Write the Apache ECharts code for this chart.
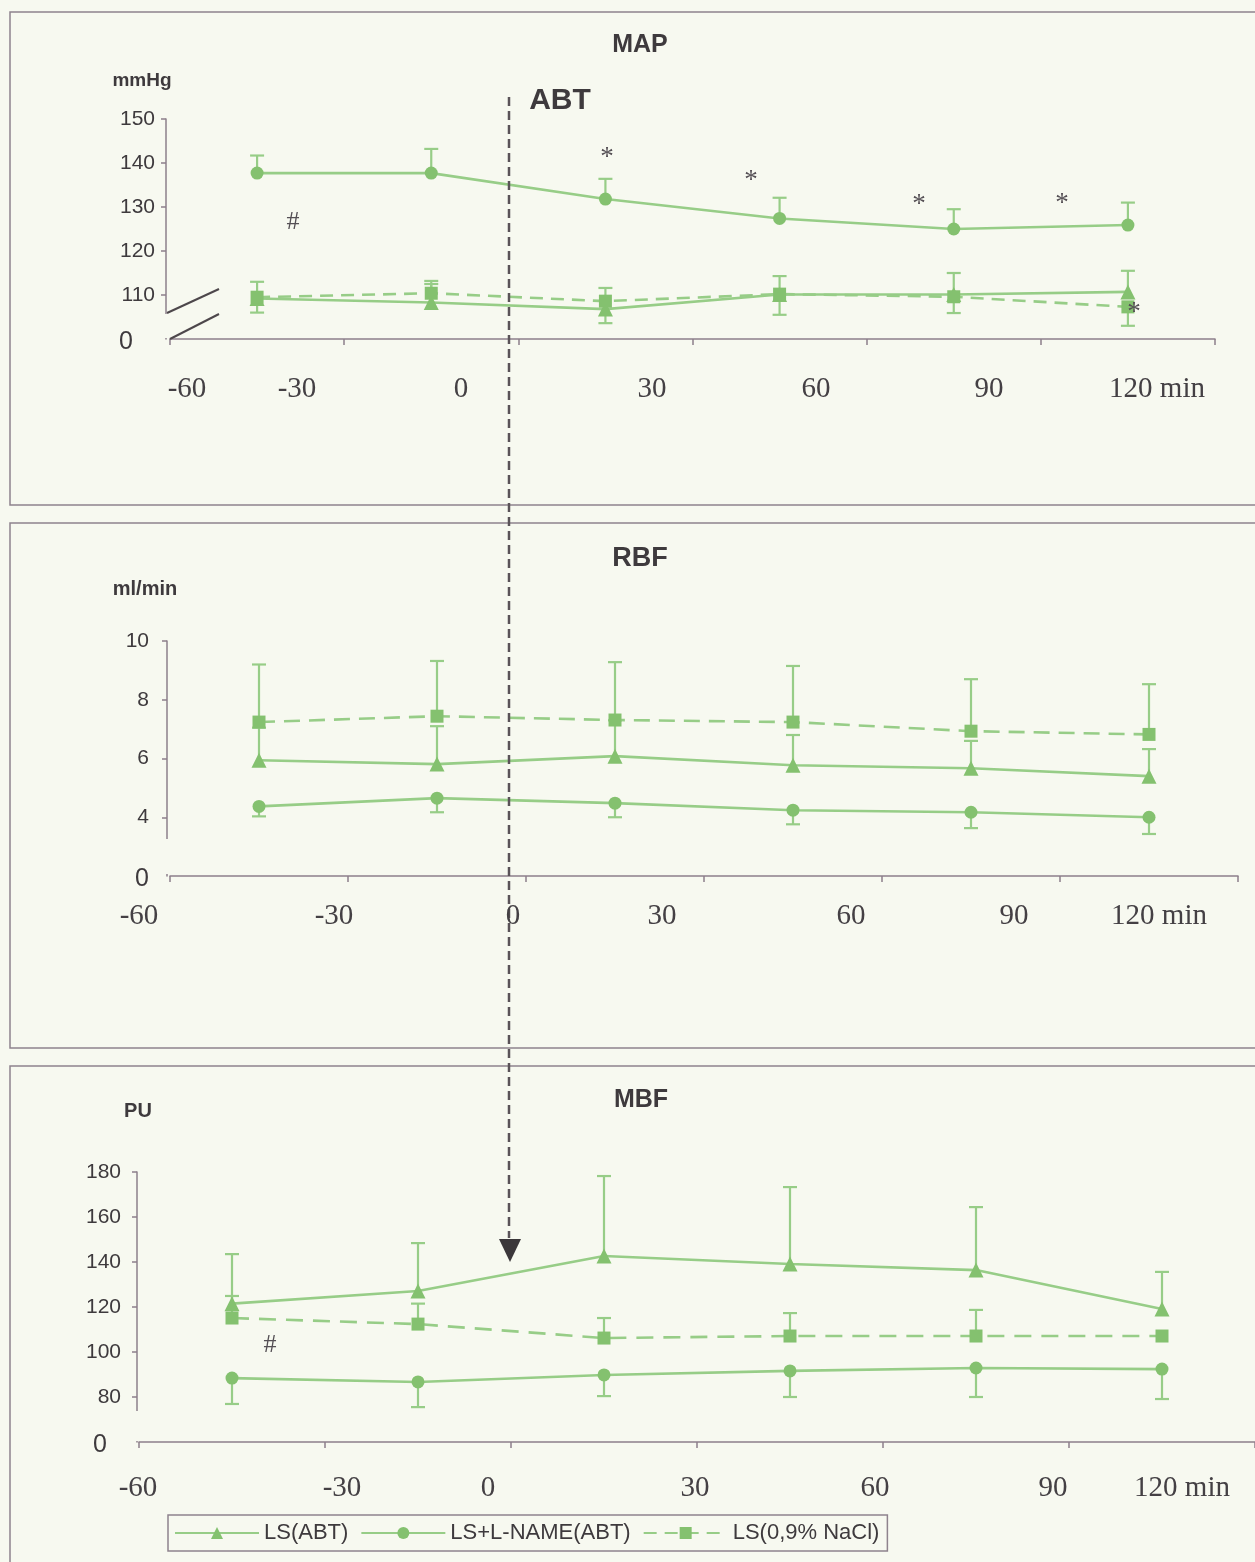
<!DOCTYPE html>
<html><head><meta charset="utf-8">
<script src="https://cdn.jsdelivr.net/npm/echarts@6/dist/echarts.min.js"></script>
<style>html,body{margin:0;padding:0;background:#f7f9f0;}#c{width:1255px;height:1562px;}</style>
</head><body><div id="c"></div>
<script>
// ---------- DATA ----------
const timePoints = ['-30', '0', '30', '60', '90', '120'];
const seriesNames = ['LS(ABT)', 'LS+L-NAME(ABT)', 'LS(0,9% NaCl)'];
const xTickLabels = ['-60', '-30', '0', '30', '60', '90', '120 min'];

// MAP (mmHg)
const mapLS        = [109.2, 108.3, 106.8, 110.1, 110.1, 110.7];
const mapLSHigh    = [null, 112.5, null, null, null, 115.5];
const mapLSLow     = [null, null, 103.6, 105.5, 105.9, null];
const mapLN        = [137.7, 137.7, 131.8, 127.4, 125.0, 125.9];
const mapLNHigh    = [141.7, 143.2, 136.4, 132.1, 129.5, 131.0];
const mapLNLow     = [null, null, null, null, null, null];
const mapNaCl      = [109.5, 110.4, 108.6, 110.2, 109.6, 107.3];
const mapNaClHigh  = [113.0, 113.2, 111.6, 114.3, 115.0, null];
const mapNaClLow   = [106.0, null, null, null, null, 103.0];

// RBF (ml/min)
const rbfLS        = [5.94, 5.81, 6.08, 5.77, 5.67, 5.40];
const rbfLSHigh    = [7.05, 7.10, 7.30, 6.80, 6.60, 6.32];
const rbfLSLow     = [null, null, null, null, null, null];
const rbfLN        = [4.37, 4.65, 4.48, 4.24, 4.17, 4.00];
const rbfLNHigh    = [null, null, null, null, null, null];
const rbfLNLow     = [4.03, 4.17, 4.00, 3.76, 3.63, 3.43];
const rbfNaCl      = [7.24, 7.44, 7.31, 7.24, 6.93, 6.82];
const rbfNaClHigh  = [9.20, 9.32, 9.28, 9.15, 8.70, 8.53];
const rbfNaClLow   = [null, null, null, null, null, null];

// MBF (PU)
const mbfLS        = [121.5, 127.1, 142.7, 139.1, 136.4, 119.1];
const mbfLSHigh    = [143.5, 148.4, 178.2, 173.3, 164.4, 135.6];
const mbfLSLow     = [null, null, null, null, null, null];
const mbfLN        = [88.4, 86.7, 89.8, 91.6, 92.9, 92.4];
const mbfLNHigh    = [null, null, null, null, null, null];
const mbfLNLow     = [76.9, 75.5, 80.4, 80.0, 80.0, 79.1];
const mbfNaCl      = [115.1, 112.4, 106.2, 107.1, 107.1, 107.1];
const mbfNaClHigh  = [124.9, 121.5, 115.1, 117.3, 118.7, null];
const mbfNaClLow   = [null, null, null, null, null, null];

// y axis ranges (bottom value is shown as "0" because of the axis break)
const mapAxis = {min: 100, max: 150, interval: 10, ticks: [110, 120, 130, 140, 150]};
const rbfAxis = {min: 2, max: 10, interval: 2, ticks: [4, 6, 8, 10]};
const mbfAxis = {min: 60, max: 180, interval: 20, ticks: [80, 100, 120, 140, 160, 180]};

// ---------- LAYOUT / STYLE ----------
const LINE = '#97cd87', MARK = '#84c16f', AXIS = '#8d7f8b', TXT = '#3e3a3d', BORDER = '#8f838d', BG = '#f7f9f0';
const SANS = 'Liberation Sans', SERIF = 'Liberation Serif';
const grids = [
  {left: 170, top: 119, width: 1045, height: 220},
  {left: 170, top: 641, width: 1068, height: 235},
  {left: 139, top: 1172, width: 1119, height: 270}
];
const yOffsets = [4, 3, 2];
const yLabelMargins = [11, 18, 16];
const zeroPads = [22, 0, 14];
const xLabelX = [
  [187, 297, 461, 652, 816, 989, 1157],
  [139, 334, 513, 662, 851, 1014, 1159],
  [138, 342, 488, 695, 875, 1053, 1182]
];
const xLabelY = [389, 916, 1488];

const chart = echarts.init(document.getElementById('c'), null, {renderer: 'canvas'});

function errData(vals, hi, lo) {
  return vals.map((v, i) => [i, v, hi[i] == null ? '-' : hi[i], lo[i] == null ? '-' : lo[i]]);
}
function errRender(params, api) {
  const i = api.value(0), v = api.value(1), hi = api.value(2), lo = api.value(3);
  const p = api.coord([i, v]);
  const cw = 7;
  const st = {stroke: LINE, lineWidth: 2.2};
  const ch = [];
  [hi, lo].forEach(e => {
    if (e == null || isNaN(e)) return;
    const q = api.coord([i, e]);
    ch.push({type: 'line', shape: {x1: p[0], y1: p[1], x2: q[0], y2: q[1]}, style: st});
    ch.push({type: 'line', shape: {x1: q[0] - cw, y1: q[1], x2: q[0] + cw, y2: q[1]}, style: st});
  });
  return {type: 'group', children: ch};
}

const panels = [
  {axis: mapAxis, ls: [mapLS, mapLSHigh, mapLSLow], ln: [mapLN, mapLNHigh, mapLNLow], na: [mapNaCl, mapNaClHigh, mapNaClLow], dash: [13, 8]},
  {axis: rbfAxis, ls: [rbfLS, rbfLSHigh, rbfLSLow], ln: [rbfLN, rbfLNHigh, rbfLNLow], na: [rbfNaCl, rbfNaClHigh, rbfNaClLow], dash: [16, 9]},
  {axis: mbfAxis, ls: [mbfLS, mbfLSHigh, mbfLSLow], ln: [mbfLN, mbfLNHigh, mbfLNLow], na: [mbfNaCl, mbfNaClHigh, mbfNaClLow], dash: [17, 10]}
];

const xAxes = [], yAxes = [], series = [];
panels.forEach((pn, g) => {
  xAxes.push({
    gridIndex: g, type: 'category', data: timePoints, boundaryGap: true,
    axisLine: {show: true, onZero: false, lineStyle: {color: AXIS, width: 1.5}},
    axisTick: {show: true, length: 6, alignWithLabel: false, lineStyle: {color: AXIS, width: 1.5}},
    axisLabel: {show: false}, splitLine: {show: false}
  });
  const ax = pn.axis;
  yAxes.push({
    gridIndex: g, type: 'value', min: ax.min, max: ax.max, interval: ax.interval, offset: yOffsets[g],
    axisLine: {show: true, lineStyle: {color: AXIS, width: 1.5}},
    axisTick: {show: true, length: 5, lineStyle: {color: AXIS, width: 1.5}, customValues: ax.ticks},
    axisLabel: {
      show: true, margin: yLabelMargins[g], fontFamily: SANS, fontSize: 21, color: TXT,
      formatter: v => v === ax.min ? '{z|0}' : String(v),
      rich: {z: {fontFamily: SANS, fontSize: 25, color: TXT, padding: [6, zeroPads[g], 0, 0]}}
    },
    splitLine: {show: false}
  });
  const defs = [
    {name: seriesNames[0], d: pn.ls, symbol: 'triangle', size: 15, type: 'solid'},
    {name: seriesNames[1], d: pn.ln, symbol: 'circle', size: 13, type: 'solid'},
    {name: seriesNames[2], d: pn.na, symbol: 'rect', size: 13, type: pn.dash}
  ];
  defs.forEach(df => {
    series.push({
      type: 'custom', name: 'err-' + df.name + '-' + g, xAxisIndex: g, yAxisIndex: g,
      data: errData(df.d[0], df.d[1], df.d[2]), encode: {x: 0, y: 1},
      renderItem: errRender, silent: true, z: 2, clip: false
    });
    series.push({
      type: 'line', name: df.name, xAxisIndex: g, yAxisIndex: g, data: df.d[0],
      symbol: df.symbol, symbolSize: df.size, showSymbol: true,
      lineStyle: {color: LINE, width: 2.6, type: df.type},
      itemStyle: {color: MARK}, z: 3, silent: true
    });
  });
});

// ---------- graphic annotations ----------
const gr = [];
function txt(x, y, text, size, family, weight, color) {
  gr.push({type: 'text', x: x, y: y, z: 50, silent: true,
    style: {text: text, fontSize: size, fontFamily: family, fontWeight: weight || 'normal', fill: color || TXT, align: 'center', verticalAlign: 'middle'}});
}
// panel frames
gr.push({type: 'rect', shape: {x: 10, y: 12, width: 1300, height: 493}, style: {fill: null, stroke: BORDER, lineWidth: 1.5}, z: 1, silent: true});
gr.push({type: 'rect', shape: {x: 10, y: 523, width: 1300, height: 525}, style: {fill: null, stroke: BORDER, lineWidth: 1.5}, z: 1, silent: true});
gr.push({type: 'rect', shape: {x: 10, y: 1066, width: 1300, height: 560}, style: {fill: null, stroke: BORDER, lineWidth: 1.5}, z: 1, silent: true});
// titles & units
txt(640, 45, 'MAP', 25, SANS, 'bold');
txt(142, 81, 'mmHg', 19, SANS, 'bold');
txt(560, 101, 'ABT', 30, SANS, 'bold');
txt(640, 559, 'RBF', 27, SANS, 'bold');
txt(145, 589, 'ml/min', 20, SANS, 'bold');
txt(641, 1100, 'MBF', 25, SANS, 'bold');
txt(138, 1111, 'PU', 20, SANS, 'bold');
// x tick labels
xLabelX.forEach((row, g) => row.forEach((x, k) => txt(x, xLabelY[g], xTickLabels[k], 29, SERIF, 'normal', '#444044')));
// significance marks
[[607, 158], [751, 181], [919, 205], [1062, 204], [1134, 313]].forEach(p => txt(p[0], p[1], '*', 27, SERIF, 'normal', '#555055'));
txt(293, 222, '#', 26, SERIF, 'normal', '#555055');
txt(270, 1345, '#', 26, SERIF, 'normal', '#555055');
// axis-break covers and marks
gr.push({type: 'rect', shape: {x: 162, y: 314, width: 7, height: 24}, style: {fill: BG}, z: 40, silent: true});
gr.push({type: 'rect', shape: {x: 164, y: 839, width: 7, height: 35}, style: {fill: BG}, z: 40, silent: true});
gr.push({type: 'rect', shape: {x: 134, y: 1411, width: 7, height: 30}, style: {fill: BG}, z: 40, silent: true});
gr.push({type: 'line', shape: {x1: 167, y1: 313, x2: 219, y2: 289}, style: {stroke: '#4d474b', lineWidth: 2}, z: 45, silent: true});
gr.push({type: 'line', shape: {x1: 170, y1: 339, x2: 219, y2: 314}, style: {stroke: '#4d474b', lineWidth: 2}, z: 45, silent: true});
// ABT dashed marker line with arrow
gr.push({type: 'line', shape: {x1: 509, y1: 97, x2: 509, y2: 1238}, style: {stroke: '#5a5358', lineWidth: 2.5, lineDash: [9, 5]}, z: 45, silent: true});
gr.push({type: 'polygon', shape: {points: [[499, 1239], [521, 1239], [510, 1262]]}, style: {fill: '#3b373a'}, z: 45, silent: true});

chart.setOption({
  backgroundColor: BG,
  animation: false,
  grid: grids.map(g => Object.assign({containLabel: false}, g)),
  xAxis: xAxes,
  yAxis: yAxes,
  legend: {
    left: 168, top: 1515, data: seriesNames, itemWidth: 84, itemHeight: 15, itemGap: 12,
    padding: [7, 8, 7, 6], borderColor: BORDER, borderWidth: 1.5, selectedMode: false,
    textStyle: {fontFamily: SANS, fontSize: 22, color: TXT}
  },
  series: series,
  graphic: gr
});
</script></body></html>
